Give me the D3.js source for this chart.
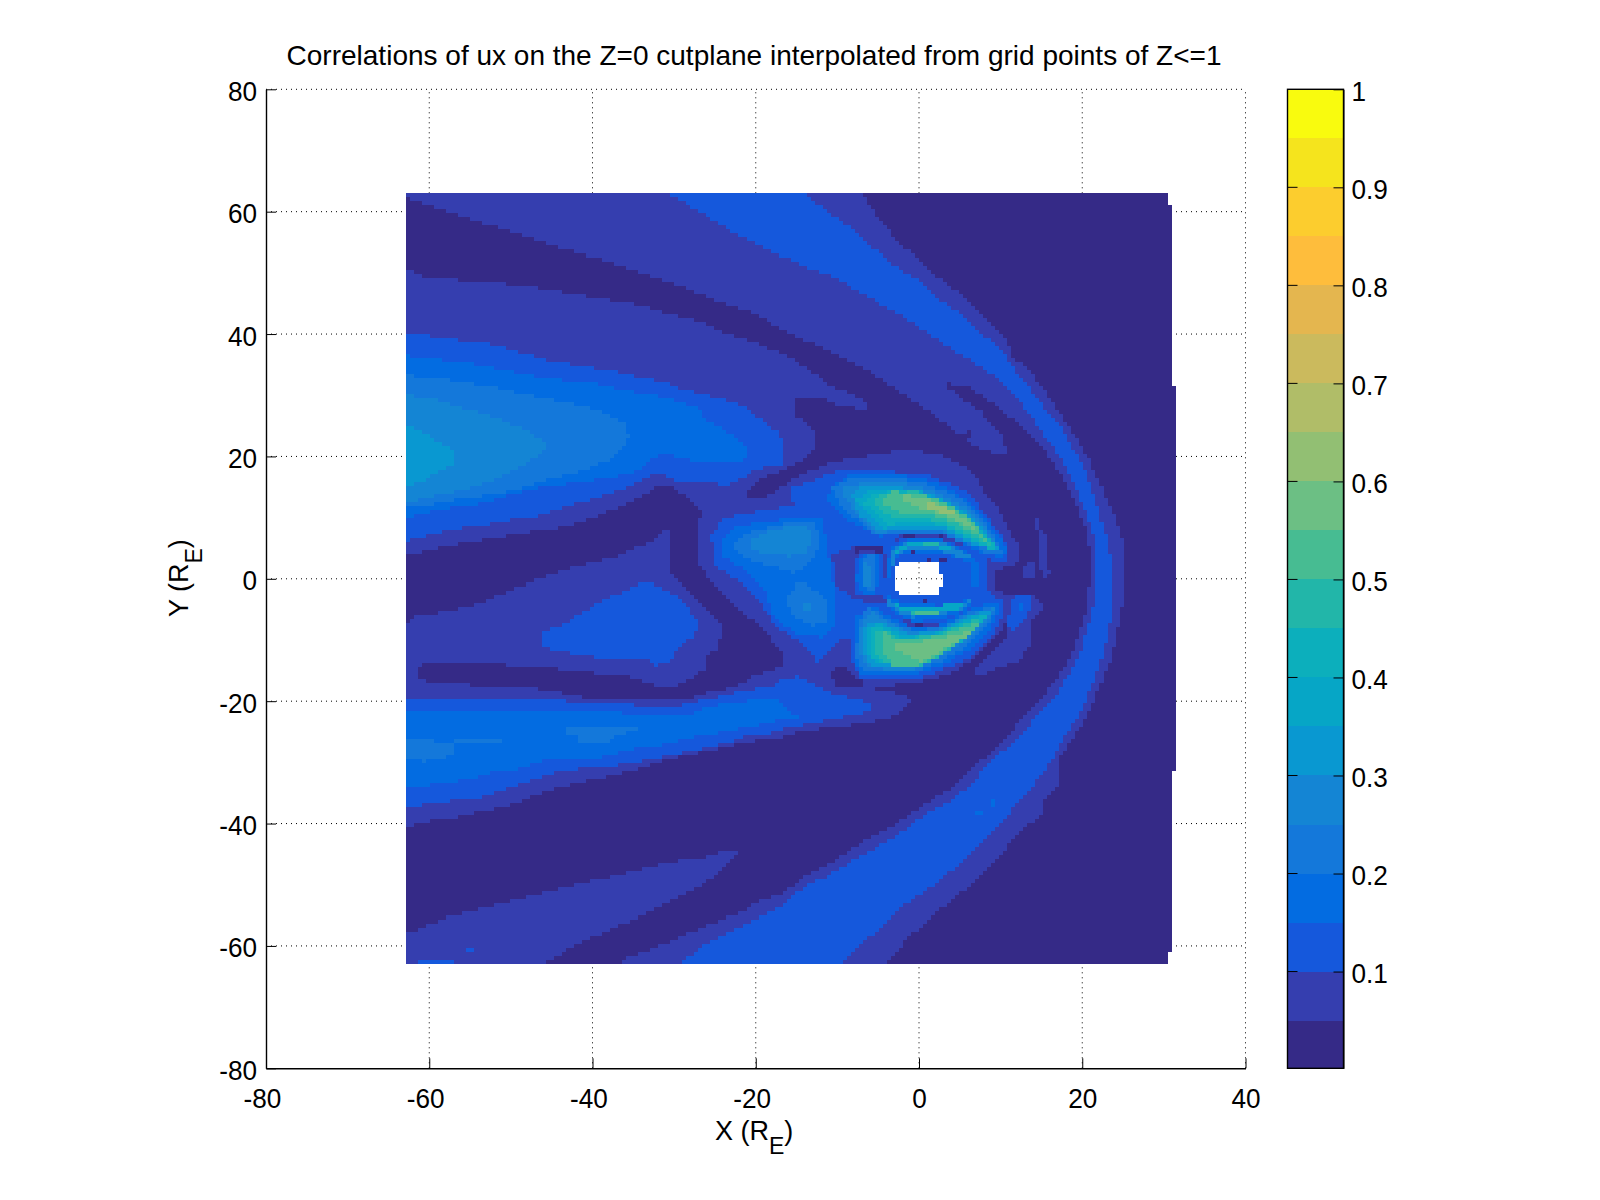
<!DOCTYPE html>
<html><head><meta charset="utf-8">
<script src="https://d3js.org/d3.v7.min.js"></script>
<style>html,body{margin:0;background:#fff}svg{display:block}text{font-family:"Liberation Sans",Arial,sans-serif;fill:#000}</style>
</head><body><svg id="c" width="1600" height="1200"></svg>
<script>
const titleText="Correlations of ux on the Z=0 cutplane interpolated from grid points of Z<=1";
const xTicks=[-80,-60,-40,-20,0,20,40];
const yTicks=[-80,-60,-40,-20,0,20,40,60,80];
const cbTicks=[0.1,0.2,0.3,0.4,0.5,0.6,0.7,0.8,0.9,1];
const levelEdges=[0.0013,0.05,0.1,0.15,0.2,0.25,0.3,0.35,0.4,0.45,0.5,0.55,0.6,0.65,0.7,0.75,0.8,0.85,0.9,0.95,1];
const levelColors=["#352a87","#353eaf","#1558dc","#036ce1","#1478da","#1485d4","#0998d1","#06a6c6","#0cafbc","#22b6a9","#47bc92","#6cbf84","#92bf73","#b0bd68","#cbba5d","#e4b64f","#febd3c","#fccd2e","#f5e41d","#f9fb0e"];

const domainOutline=[[-62.9,63],[30.4,63],[30.4,61.1],[30.9,61.1],[30.9,31.3],[31.4,31.3],[31.4,-31.2],[30.9,-31.2],[30.9,-60.9],[30.4,-60.9],[30.4,-62.9],[-62.9,-62.9]];
const holeOutline=[[-2.9,2],[-1.75,3],[1.5,3],[2.5,2.2],[2.5,0.9],[3.05,0.9],[3.05,-1.3],[2.5,-1.3],[2.5,-2.1],[1.5,-2.8],[-1.75,-2.8],[-2.5,-2.1],[-2.9,-1.3]];

const mainL2=[[-62.9,63],[-7.1,63],[-5.2,59.2],[-2.8,55.4],[0.5,51.5],[3.3,48.3],[5.4,46.4],[8.2,42.3],[10.9,39],[11.5,36.3],[13.9,33.6],[16.8,28.1],[19,23.8],[20.9,19.4],[22.5,14.5],[23.7,10.7],[24.95,6.3],[24.95,1.4],[25.2,-1.8],[23.7,-12.2],[22.1,-17.6],[21.1,-21.4],[19.6,-24.7],[17.2,-29.6],[17.2,-34],[15.2,-36.7],[15.2,-38.3],[12.3,-41.6],[9.45,-46],[6.2,-50.3],[2.5,-54.1],[-1.2,-58.5],[-4.2,-62.9],[-62.9,-62.9]];
const shellL3=[[-14.2,63],[-13,61.9],[-11.4,60],[-9.7,58.4],[-8.1,57],[-5.6,54],[-2.8,51],[0.5,48.3],[2.5,45.8],[5,43.4],[7.4,40.1],[9.5,38.5],[11.5,34.7],[13.5,31.4],[15.6,27.6],[18,23.8],[18.8,21.6],[20.1,18.9],[20.9,15.6],[21.7,12.3],[22.9,6.9],[23.7,1.4],[23.3,-8.4],[22.3,-13.3],[21.3,-17.1],[20.3,-20.4],[19,-23.6],[17.6,-26.3],[16.6,-29.1],[15.6,-31.2],[13.9,-34],[12.3,-36.1],[10.3,-40],[8.2,-42.1],[6.2,-45.4],[3.7,-48.1],[0.5,-51.4],[-2,-53.6],[-4,-56.3],[-6.5,-59],[-9.7,-62.9],[-29.3,-62.9],[-26.9,-60.4],[-24.9,-58.8],[-22,-57.1],[-19.6,-55.2],[-17.1,-53.8],[-15.8,-52.2],[-13.8,-50],[-11.8,-49],[-9.3,-47],[-6.5,-44.9],[-3.6,-42.7],[-1.2,-40.5],[1.1,-38.3],[4.1,-36.1],[6.6,-33.4],[8.2,-30.7],[10.7,-27.7],[13.1,-24.7],[14.3,-22.5],[16.8,-19],[18,-16.5],[19.6,-12.7],[20.5,-8.9],[21.5,-4],[21.7,1.4],[21.5,6.9],[20.5,10.7],[19.4,14.5],[18,18.3],[16.4,21.6],[14.3,25.4],[12.3,29.2],[9.5,33],[7,35.2],[4.1,37.4],[1.3,40.1],[-1.2,42.3],[-4.8,45],[-6.9,46.6],[-10.5,49.4],[-13.8,51],[-17.1,52.9],[-19.2,54.3],[-23.2,57],[-25.3,58.6],[-27.3,60.3],[-29.4,61.9],[-31.2,63]];
const shellSpeckA=[[6.8,-38.2],[7.7,-38.2],[7.7,-38.9],[6.8,-38.9]];
const shellSpeckB=[[8.6,-36.3],[9.1,-36.3],[9.1,-37],[8.6,-37]];
const darkInterior=[[-62.9,62.4],[-60.6,61.1],[-57.3,59.8],[-54.4,58.5],[-49.8,56.7],[-44.9,54.5],[-40.8,52.9],[-35,50.5],[-29.4,48],[-25.3,45.8],[-20,43.4],[-17.1,40.9],[-12.6,38.2],[-8.3,35.5],[-4.8,32.8],[3.5,31.9],[5.8,31.7],[7.4,30.3],[10.7,27],[13.9,23.2],[16,20],[17.6,16.7],[19.2,12.3],[20.5,8],[21.1,4.2],[21.1,1.4],[20.5,-5.1],[19.5,-9.5],[18.4,-13.3],[16.8,-16.5],[15.2,-19.3],[13.3,-22],[10.7,-25.8],[8.2,-29.1],[6.2,-31.2],[3.7,-34.5],[0.9,-36.7],[-1.6,-39.1],[-4,-41],[-6.3,-42.4],[-9.7,-45.4],[-11.8,-47.3],[-14,-48.7],[-17.1,-51.7],[-19.6,-52.5],[-22,-54.7],[-25.3,-56.3],[-29.4,-58.5],[-33,-60.7],[-35.5,-61.7],[-36.5,-62.9],[-62.9,-62.9]];
const tongueL2=[[-4.8,32.8],[-0.75,29.2],[2.1,26.5],[5.4,23.2],[7,21.6],[9,20.5],[11.3,20],[9.9,23.8],[7.4,27.6],[5,29.8],[3.5,31.3],[3.2,32.3],[-4.8,33.3]];
const tonguePatch=[[5.8,24.3],[6.6,24.3],[6.6,21.9],[6.2,22.7],[5.3,23.2]];
const upperWakeL2=[[-62.9,51],[-61,49.6],[-59.1,49.1],[-52.6,48.6],[-47.9,47.8],[-44.9,47.2],[-41.6,46.5],[-38.7,45.8],[-35.9,45.3],[-33.8,44.6],[-30.6,43.4],[-26.5,42],[-23.6,40.2],[-20.8,39],[-17.1,37],[-15,35.5],[-13,33.8],[-10.7,31.4],[-8.3,30.3],[-6.5,29],[-6.1,27.6],[-9.3,28.2],[-11.8,29.4],[-15.4,29.4],[-15.4,27],[-13,24.3],[-12.7,21.6],[-14.2,19.4],[-17.1,17.5],[-19.8,16.1],[-21.2,14.2],[-20.8,12.6],[-19.2,12.4],[-17.1,14.2],[-15.4,15.9],[-17.1,10.2],[-23.2,10.2],[-26.5,11.2],[-27.7,12.3],[-30.2,15.3],[-31.6,15.3],[-34.6,12.9],[-37.5,11.2],[-40,9.9],[-43.2,8.5],[-48.5,7.4],[-55.1,6],[-59.1,5],[-62.9,3.6]];
const lowerWakeL2=[[-62.9,-7.3],[-62,-6.2],[-58.3,-5.4],[-53.8,-4],[-48.5,-1],[-43.6,1.4],[-41.2,2.3],[-37.5,3.3],[-35.1,4.7],[-32.6,6.3],[-31.4,8],[-30.7,8],[-30.7,1.4],[-30.2,0.35],[-27.7,-2.4],[-25.7,-5.1],[-24,-7.8],[-24.5,-11.1],[-26.1,-13],[-26.3,-14.9],[-27.7,-16],[-29.4,-17.4],[-32.2,-17.4],[-33.4,-16.8],[-35.5,-16],[-39.5,-15.4],[-44.9,-14.6],[-47.3,-14.4],[-55.9,-13.5],[-56.7,-13.8],[-61.6,-14.1],[-61.6,-16.5],[-54.4,-17.4],[-46.9,-17.9],[-41.2,-19.3],[-32.2,-19.8],[-28.5,-19.8],[-26.1,-18.7],[-24,-18.2],[-22.2,-17.4],[-20.4,-16],[-18.3,-14.9],[-17.1,-14.4],[-12.2,-12.7],[-11,-16],[-10.5,-17.4],[-6.5,-17.6],[-2.8,-18.7],[-0.75,-19.5],[-2,-21.7],[-4.6,-23.1],[-9.7,-24.2],[-13.4,-24.7],[-15.8,-25.3],[-17.1,-26.1],[-20.8,-26.6],[-25.3,-28],[-30.2,-29.3],[-33.4,-30.7],[-37.9,-32.3],[-42,-33.4],[-44.9,-34.5],[-47.9,-35.9],[-50.6,-37.2],[-54.4,-38.3],[-56.3,-38.9],[-59.1,-39.4],[-62,-40.2],[-62.9,-40.8]];
const lowerLeftL2=[[-62.9,-58],[-60.6,-56.8],[-58.3,-55.5],[-54.4,-54.1],[-50.6,-52.8],[-46.9,-51.7],[-44.5,-50.9],[-38.7,-49],[-35.1,-47.9],[-30.8,-46.5],[-25.7,-45.4],[-24,-44.6],[-21.8,-44.6],[-22.8,-46],[-24.4,-48.1],[-26.9,-50.3],[-30.2,-52.5],[-33.8,-54.9],[-37.9,-57.4],[-40.8,-59],[-43.2,-60.7],[-45,-62],[-46.5,-62.9],[-62.9,-62.9]];
const cornerL3A=[[-61.6,-62.3],[-56.8,-62.3],[-56.8,-62.9],[-61.6,-62.9]];
const cornerL3B=[[-55.4,-60.3],[-54.4,-60.3],[-54.4,-61],[-55.4,-61]];
const upperWakeL3=[[-62.9,40.2],[-59.5,39.6],[-55.9,39],[-52.6,38.5],[-49.1,37.1],[-45.7,35.8],[-41.2,34.7],[-37.9,34.1],[-34.2,33],[-31,32],[-28.5,30.8],[-25.3,29.8],[-22,28.7],[-20.4,27],[-18.3,24.9],[-17.1,23.8],[-16.5,21.6],[-16.5,18.9],[-17.1,18.6],[-19.6,18],[-20.8,17.2],[-22.4,15.6],[-27.3,14.8],[-30.2,16.1],[-31.8,17.5],[-33.4,16.4],[-35.5,15],[-37.5,14],[-40,12.9],[-43.2,11.8],[-46.5,10.2],[-50.2,9.6],[-53,8.8],[-56.3,8.2],[-59.1,7.4],[-61.6,6.6],[-62.9,6.1]];
const upperWakeL4=[[-62.9,36.5],[-58.7,35.8],[-55,35.2],[-52,34.4],[-48.9,33.6],[-45.7,32.8],[-40,32],[-36.3,30.8],[-31.4,29.8],[-27.3,28.1],[-25.7,25.7],[-23.2,23.8],[-21.2,21.3],[-20.8,20.5],[-22,18.9],[-26.9,18.9],[-28.5,19.7],[-31.4,20.5],[-32.8,19.4],[-33.8,18],[-37.5,16.4],[-41.2,15.9],[-44,15.3],[-46.9,14.8],[-50.2,13.7],[-53.4,12.3],[-56.3,11.8],[-59.1,11.2],[-61.6,10.4],[-62.9,9.7]];
const upperWakeL5=[[-62.9,33.3],[-58.7,32.8],[-55.5,32],[-52.2,31.4],[-48.9,30.3],[-44.6,29.2],[-40.8,28.1],[-37.9,26.8],[-36,25.4],[-35.5,23.2],[-36.1,21.6],[-37.9,19.4],[-40.8,17.8],[-44.9,16.4],[-48.5,14.8],[-52.2,13.7],[-56.3,13.1],[-59.1,12.3],[-61,11.8],[-62.9,11.8]];
const upperWakeL6=[[-62.9,30],[-59.5,29.5],[-56.7,28.1],[-53.4,27],[-50.6,25.7],[-48.1,24.3],[-45.9,22.4],[-45.9,20.8],[-48.1,18.9],[-49.8,17.5],[-52.6,15.9],[-55.1,14.8],[-58.3,13.7],[-61,13.1],[-62.9,12.3]];
const upperWakeL7=[[-62.9,25.1],[-61,24],[-58.3,21.9],[-56.8,21],[-56.8,19.1],[-58.7,17.5],[-61,15.9],[-62.9,15]];
const lowerWakeL3=[[-62.9,-19.3],[-51.6,-19.3],[-51.6,-19.8],[-43,-19.8],[-43,-20.5],[-35.1,-20.5],[-35.1,-21],[-29,-21],[-28.9,-20.5],[-26.3,-19.8],[-24,-19.1],[-22.2,-18.4],[-20,-17.9],[-17.5,-17.4],[-17.1,-16.5],[-15,-16],[-12.6,-17.4],[-10.1,-19],[-6.9,-19.8],[-6.1,-20.6],[-6.1,-21.7],[-8.3,-22.3],[-13,-23.6],[-15.8,-24.2],[-17.1,-24.6],[-18.7,-25.5],[-20.8,-25.5],[-23.6,-26.9],[-27.7,-28.2],[-31.4,-29.1],[-34.2,-29.9],[-38.3,-30.7],[-43,-31.2],[-46.9,-32.6],[-49.8,-34],[-53,-35.6],[-54.9,-35.9],[-57.7,-36.4],[-61,-37],[-62.9,-37.7]];
const lowerWakeL4=[[-62.9,-21.7],[-36.5,-21.7],[-36.5,-22.4],[-29.3,-22.4],[-26.5,-21.7],[-26.5,-21.2],[-23.6,-20.3],[-20,-19.8],[-17.1,-19.3],[-17.1,-20.3],[-15.4,-22],[-14.2,-22],[-15.4,-23.1],[-17.1,-23.1],[-18.9,-23.7],[-21.4,-24.4],[-23.6,-25],[-26.3,-25.5],[-28.3,-26.1],[-30.2,-26.9],[-34,-27.6],[-35.9,-28.2],[-39.1,-29.2],[-44.4,-29.3],[-47.3,-30.1],[-49.1,-31.2],[-51.2,-31.2],[-54.4,-32.6],[-56.9,-33.2],[-61,-33.9],[-62.9,-34.4]];
const lowerWakeL5a=[[-62.9,-26.2],[-59.5,-26.2],[-59.5,-26.8],[-56.8,-26.8],[-56.8,-26.2],[-51.2,-26.2],[-51.2,-26.8],[-56.8,-26.9],[-56.8,-28.8],[-58.3,-29.3],[-60.6,-29.3],[-60.6,-29.9],[-61.1,-29.9],[-61.1,-29.3],[-62.9,-29.3]];
const lowerWakeL5b=[[-43,-24.4],[-34.4,-24.4],[-34.4,-24.9],[-36,-24.9],[-36,-25.5],[-37.3,-25.5],[-37.3,-26.2],[-38.3,-26.8],[-41.6,-26.8],[-41.6,-26.2],[-42.4,-25.5],[-43,-25.5]];
const lensL3=[[-46.4,-8.6],[-44.9,-7.9],[-43.4,-7.3],[-41.2,-5.4],[-38.7,-3.5],[-35.5,-1.6],[-34,-0.85],[-32.6,-0.85],[-30.2,-2.3],[-28.5,-4],[-27.5,-6.2],[-26.9,-7.5],[-27.5,-9.2],[-28.5,-10.3],[-29.7,-11.6],[-30.6,-13.8],[-32.6,-14.2],[-32.6,-13.5],[-35.1,-12.8],[-39.3,-12.8],[-42,-12.2],[-44.5,-11.6],[-46.4,-11]];

const bubbleL2=[[-21.1,13.4],[-19.1,13.1],[-15.6,16.1],[-13.8,17.5],[-10.3,19.1],[-5.2,20.4],[-1.6,21],[2.1,20.5],[5.8,18.3],[7,16.4],[8.2,13.7],[9.9,11.2],[10.9,8],[12.3,5.2],[12.3,2.5],[9.3,1.4],[9.5,-1.8],[11.3,-2.9],[10.9,-6.2],[10.5,-7],[10.1,-8.4],[8.2,-11.1],[6.6,-13.3],[3.75,-15.5],[0.1,-16.8],[-4.8,-17.6],[-10.1,-18.2],[-10.9,-17.1],[-16.6,-15.5],[-16.6,-12.2],[-19.5,-7.8],[-22.4,-4.6],[-24,-2.4],[-26.85,2],[-26.85,9.6],[-26.45,11.2],[-28.1,13.4],[-29.3,14.8],[-29.3,16.1],[-21.1,15]];
const bubblePatch=[[-10.7,-14.9],[-10.1,-14.4],[-9.1,-14.4],[-7.7,-16],[-6.9,-16.8],[-6.5,-17.6],[-10.1,-17.6],[-10.7,-16.3]];
const ringA=[[14.3,9.7],[14.8,9.7],[14.8,8.5],[15.8,6.9],[15.8,1.4],[14.8,1.4],[14.8,6.4],[14.3,8.5]];
const ringB=[[13.4,2.8],[14.1,2.8],[14.1,-0.2],[12.9,-0.2],[12.9,1.4]];
const ringC=[[15.2,1.4],[16.6,1.4],[15.6,-0.2],[15.2,-0.2]];
const ringD=[[10.5,-4],[11.5,-2.9],[13.5,-2.4],[15,-3.6],[15,-5.4],[13.9,-6.7],[13.5,-11.1],[12.3,-13.3],[8.2,-15.4],[7,-16],[6.8,-14.9],[7.8,-13.3],[10.7,-9.5],[10.9,-7.3]];
const ringDL3=[[11.5,-3.2],[12.3,-2.4],[13.5,-2.4],[13.95,-3.5],[13.1,-6.2],[11.9,-7.8],[11.1,-9.5],[11,-6.2]];
const ringDL4=[[12,-3.75],[12.7,-3.5],[12.9,-5.1],[12.3,-5.1]];
const bubbleL3=[[-15.8,14.8],[-13,16.1],[-10.1,17.5],[-4,17.5],[0.5,17.2],[4.6,15],[6.6,13.4],[8.2,10.4],[9.9,7.4],[10.9,5.5],[10.9,2.5],[8.4,3.1],[8.6,-1.8],[10.1,-3.5],[10.1,-6.7],[9.05,-9.5],[6.6,-12.7],[3.3,-14.6],[0.1,-16.3],[-4.8,-16.55],[-7.3,-16.3],[-8.1,-13.8],[-8.5,-9.5],[-9.3,-9.7],[-12.4,-13.6],[-14.2,-10.8],[-17.5,-7.8],[-19.5,-4],[-21.5,-0.75],[-24.8,2],[-25.4,6.9],[-24,9.9],[-19.5,11],[-15.4,12]];
const blobL4=[[-24,6.6],[-22.4,8.5],[-15.8,9.9],[-11.8,10.1],[-11.35,5.2],[-10.1,-4],[-10.1,-7.3],[-11.8,-9.5],[-15,-8.9],[-17.9,-6.2],[-19.1,-1.3],[-21.5,1.4],[-24,3.6]];
const blobL5a=[[-22.6,6],[-20.7,7.7],[-15.4,9.3],[-12.8,9],[-12.2,6.9],[-12.6,3.9],[-13.8,2.2],[-15.4,0.9],[-18.3,2.2],[-20.3,2.5],[-22.6,4.7]];
const blobL6a=[[-20.7,6],[-19.5,7.4],[-15.8,8.5],[-13.6,8.5],[-13.2,6.6],[-13.8,4.1],[-15.8,3.6],[-18.7,3.9],[-20.7,5]];
const blobL5b=[[-16.4,-3.5],[-14.6,-0.2],[-11.35,-3.2],[-11.35,-6.7],[-13,-7.8],[-15.4,-6.2]];
const blobL6b=[[-14.1,-4.1],[-13.2,-4.1],[-13.2,-5.4],[-13.6,-5.4],[-14.1,-4.8]];
const upL4=[[-11.35,12.6],[-10.5,15.3],[-8.1,17.2],[-4,17.3],[0.1,16.4],[3.3,15],[6.6,12],[8.6,9],[10.7,5.2],[10.5,3.1],[7.4,4.4],[2.5,7.4],[-2.8,7.4],[-4.8,6.8],[-8.1,9]];
const upL5=[[-10.7,15],[-8.1,16.4],[-3.2,16.7],[1.3,15.3],[5,13.1],[7.4,10.1],[9.3,6.9],[10.3,4.1],[8.6,3.9],[6.6,5.4],[1.7,7.6],[-2.8,7.5],[-5.2,7],[-8.1,10.1],[-10.1,12.9]];
const upL6=[[-9.3,14.8],[-6.5,15.9],[-1.6,15.6],[2.1,14.2],[5.4,12],[7.8,9],[9.9,4.7],[7.4,5.3],[2.5,7.8],[-3.2,7.8],[-5.2,7.3],[-7.7,10.7],[-9.1,13.4]];
const upL7=[[-8.3,13.4],[-7.3,15],[-3.2,15.3],[2.1,13.4],[5.8,11],[8.6,6.9],[9.9,4.4],[6.6,5.5],[2.9,8],[-0.7,8.2],[-4.8,7.7],[-7.1,10.1]];
const upL8=[[-7.7,12.9],[-5.6,14.8],[-1.1,14.8],[2.9,12.9],[6.6,9.6],[9.3,5.8],[9.7,4.4],[7,5.8],[2.9,8.5],[-0.7,8.8],[-4.4,8.2],[-6.25,10.7]];
const upL9=[[-6.9,12.3],[-5.2,14],[-0.7,14.5],[3.75,12],[7,9],[9.5,5.5],[9.5,4.4],[6.2,6.3],[2.9,8.8],[-0.7,9.3],[-3.8,8.8],[-5.6,11]];
const upL10=[[-5.8,12.6],[-4.4,14],[-0.3,14.2],[3.3,12],[6.6,9],[9.3,5.2],[6.2,6.9],[3.3,9],[0.1,9.9],[-2.8,9.6],[-5,11.5]];
const upL11=[[-4.6,12.6],[-3.2,14.2],[0.1,14],[4.2,11.8],[6.6,9.3],[8.6,5.8],[6.6,7.4],[4.6,9],[1.3,10.4],[-2,10.7],[-4.4,12]];
const upL12=[[-2.2,12.9],[-1.6,13.7],[0.9,13.1],[4.2,11.2],[6.2,9],[7.6,7.4],[5.4,8.8],[2.5,10.7],[-0.7,11.8]];
const upL13=[[0.1,12],[1.7,12.3],[4.2,11.2],[4.4,10.4],[2.1,11]];
const lowL4=[[-7.9,-6.2],[-8.1,-13.3],[-7.1,-15.7],[-0.7,-15.7],[3.3,-13.8],[6.6,-11.1],[8.6,-8.4],[9.9,-5.1],[9.7,-3.75],[6.6,-4.6],[3.3,-7],[-0.7,-7.8],[-4,-5.9],[-5.6,-4.3]];
const lowL5=[[-7.5,-6.7],[-7.7,-12.7],[-6.65,-15.2],[-0.7,-15.2],[2.9,-13.3],[6.2,-10.6],[8.6,-7.3],[9.5,-4.6],[6.6,-5.1],[2.9,-7.8],[-0.7,-8.4],[-4.4,-6.2],[-6,-4.6]];
const lowL6=[[-7.1,-7],[-7.3,-12.2],[-6.25,-14.6],[-0.7,-14.9],[2.5,-12.7],[5.8,-10],[8.45,-6.75],[9.3,-4.8],[6.6,-5.55],[2.7,-8.1],[-0.95,-8.8],[-4.6,-6.5],[-5.6,-5.4]];
const lowL7=[[-6.65,-7.6],[-6.85,-12.2],[-5.85,-14.4],[-1.15,-14.6],[2.1,-12.2],[5.4,-9.7],[8.25,-6.5],[9.05,-4.85],[6.6,-5.8],[2.5,-8.4],[-1.15,-9],[-4.8,-6.85]];
const lowL8=[[-6.25,-7.85],[-6.45,-12.2],[-5.2,-13.8],[-1.15,-14.4],[2.1,-12.1],[5.4,-9.5],[8.65,-5.55],[6.6,-6.1],[2.5,-8.65],[-1.55,-9.5],[-4.8,-7.2]];
const lowL9=[[-5.85,-8.1],[-5.85,-12.5],[-4.8,-13.8],[-0.3,-14.2],[2.7,-12.4],[5.8,-9.75],[8.45,-5.7],[5.8,-7],[2.1,-8.9],[-1.95,-9.75],[-4.8,-7.85]];
const lowL10=[[-5.2,-8.4],[-5.2,-12.2],[-4.2,-13.8],[0.1,-14.4],[2.9,-12.2],[6.2,-9],[8,-5.95],[5.8,-7.3],[2.1,-9.2],[-2.35,-9.75],[-4.4,-8.1]];
const lowL11=[[-4.6,-8.65],[-4.4,-12.2],[-3.2,-14.1],[-0.3,-14.4],[3.3,-11.65],[7.4,-7.8],[7.4,-7],[4.55,-8.4],[0.5,-9.75],[-2.8,-10],[-3.8,-8.65]];
const lowL12=[[-2.8,-10.3],[-2.8,-11.4],[-0.9,-12.7],[0.1,-13.55],[2.1,-12.2],[5,-10],[6.6,-8.7],[6.4,-8.4],[2.5,-9.75],[-0.75,-10.3]];
const leftRingL2=[[-10.7,3.9],[-8.1,5.2],[-4.4,5.5],[-4,2.5],[-4.4,-2.9],[-4,-3.75],[-7.7,-3.5],[-10.1,-1.3]];
const leftRingDark=[[-8.3,3.9],[-7.3,5.5],[-4.6,5.5],[-4.6,3.3],[-5.2,3.3],[-5.2,4.8],[-7.3,4.6],[-7.9,3.6]];
const ovalL3=[[-8.1,2.5],[-7.3,3.9],[-4.4,4.1],[-4.4,-2.4],[-5.2,-2.8],[-7.7,-2.8],[-8.1,-0.2]];
const ovalL4=[[-7.5,2.5],[-6.7,4],[-5.2,4],[-4.8,0.9],[-5.4,-2.4],[-7,-2.4],[-7.7,-0.2]];
const ovalL5=[[-7.1,2.8],[-6,4.1],[-5.2,3.9],[-5.4,0.9],[-5.2,-1.8],[-6.5,-1.8],[-7.1,0.3]];
const ovalL6=[[-6.9,2.5],[-6.2,2.8],[-6,0.3],[-5.6,-1.3],[-6.65,-1.3]];
const arcTopL2=[[-3.2,6.6],[-1.6,7.4],[3.3,7.1],[6.2,5.2],[5.8,5],[2.9,6.4],[-1.6,6.8],[-2.8,5.8]];
const arcTopL4=[[-3.8,2.5],[-3.4,5.2],[-0.7,6.6],[2.9,6.3],[6.2,4.1],[7.4,2.5],[7.6,-1.3],[6.6,-1.3],[6.2,2.5],[3.3,4.1],[0.1,4.1],[-2.4,4.1],[-3.2,2.5],[-3.6,-1.3]];
const arcTopL6=[[-3.6,3.1],[-3,5.2],[-0.3,6.2],[2.9,5.8],[5.8,4.1],[6.8,3.1],[4.6,3.6],[2.1,4.6],[-1.6,4.6],[-2.8,3.9],[-3.2,2]];
const arcTopL8=[[-2.8,4.1],[-2.2,5.5],[0.1,6],[2.9,5.5],[4.6,4.4],[2.1,5],[-1.1,5.1],[-2.4,4.4]];
const arcTopL10=[[0.5,5.9],[2.5,5.8],[2.9,5.2],[0.5,5.3]];
const darkDots1=[[-1.8,7.3],[-0.7,7.3],[-0.7,6.8],[-1.8,6.8]];
const darkDots2=[[2.5,7.3],[3.1,7.3],[3.1,6.6],[2.5,6.6]];
const darkDots3=[[-1.2,4.7],[-0.7,4.7],[-0.7,4],[-1.2,4]];
const darkDots4=[[2.5,3.6],[3.3,3.6],[3.3,3],[2.5,3]];
const darkDots5=[[1.1,3.6],[1.5,3.6],[1.5,3],[1.1,3]];
const arcLowL4=[[-4,-2.4],[-2.8,-3.5],[-0.7,-4],[2.9,-4.3],[6.6,-3.2],[5.8,-5.1],[2.9,-6.5],[-0.7,-7],[-2.8,-5.7],[-4,-4]];
const arcLowL6=[[-3.8,-2.9],[-3,-4.3],[-1.1,-4.8],[3.3,-4.6],[6.2,-3.5],[5.4,-4.8],[2.5,-5.9],[-0.7,-6.2],[-2.6,-5.4],[-3.8,-4.3]];
const arcLowL8=[[-3.6,-2.9],[-2.8,-4],[-1.6,-4.8],[4.6,-4],[5.8,-3.5],[5,-4.8],[2.1,-5.7],[-0.7,-5.8],[-2.4,-4.8]];
const arcLowL10=[[-1.1,-5.1],[1.7,-5.4],[4.2,-4.6],[1.7,-5.7],[-0.7,-5.7]];
const arcLowL11=[[-0.7,-5.4],[2.5,-5.4],[2.5,-5.8],[-0.7,-5.8]];
const arcBelowL2=[[-2,-6.75],[2.9,-7],[2.5,-7.8],[-1.6,-7.8]];
const arcBelowDark=[[-0.5,-7.3],[0.7,-7.3],[0.7,-7.8],[-0.5,-7.8]];
const darkDots6=[[0.5,-3.5],[1.1,-3.5],[1.1,-4.1],[0.5,-4.1]];

const paintOrder=[[2,mainL2],[3,shellL3],[4,shellSpeckA],[4,shellSpeckB],[1,darkInterior],[2,tongueL2],[1,tonguePatch],[2,upperWakeL2],[2,lowerWakeL2],[2,lowerLeftL2],[3,cornerL3A],[3,cornerL3B],
[3,upperWakeL3],[4,upperWakeL4],[5,upperWakeL5],[6,upperWakeL6],[7,upperWakeL7],[3,lowerWakeL3],[4,lowerWakeL4],[5,lowerWakeL5a],[5,lowerWakeL5b],[3,lensL3],
[2,bubbleL2],[1,bubblePatch],[2,ringA],[2,ringB],[2,ringC],[2,ringD],[3,ringDL3],[4,ringDL4],[3,bubbleL3],[4,blobL4],[5,blobL5a],[6,blobL6a],[5,blobL5b],[6,blobL6b],
[4,upL4],[5,upL5],[6,upL6],[7,upL7],[8,upL8],[9,upL9],[10,upL10],[11,upL11],[12,upL12],[13,upL13],
[4,lowL4],[5,lowL5],[6,lowL6],[7,lowL7],[8,lowL8],[9,lowL9],[10,lowL10],[11,lowL11],[12,lowL12],
[2,leftRingL2],[1,leftRingDark],[3,ovalL3],[4,ovalL4],[5,ovalL5],[6,ovalL6],
[2,arcBelowL2],[1,arcBelowDark],[4,arcLowL4],[6,arcLowL6],[8,arcLowL8],[10,arcLowL10],[11,arcLowL11],[1,darkDots6],
[2,arcTopL2],[1,darkDots1],[1,darkDots2],[4,arcTopL4],[6,arcTopL6],[8,arcTopL8],[10,arcTopL10],[1,darkDots3],[1,darkDots4],[1,darkDots5]];

const cellW=0.4914, cellH=0.6557, gridX0=-62.9, gridY0=63, cellRows=192, cellCols=193;

const svg=d3.select("#c");
const x=d3.scaleLinear().domain([-80,40]).range([266,1245.5]);
const y=d3.scaleLinear().domain([-80,80]).range([1068.3,89.3]);
const cb=d3.scaleLinear().domain([levelEdges[0],1]).range([1068.3,89.3]);
const squeeze=0.97;

const grid=svg.append("g").attr("stroke","#000").attr("stroke-width",1).attr("stroke-dasharray","1 4").attr("fill","none");
grid.selectAll(".gx").data(xTicks.slice(1)).join("line").attr("x1",d=>x(d)).attr("x2",d=>x(d)).attr("y1",y(-80)).attr("y2",y(80));
grid.selectAll(".gy").data(yTicks.slice(1)).join("line").attr("y1",d=>y(d)).attr("y2",d=>y(d)).attr("x1",x(-80)).attr("x2",x(40));

const shapes=paintOrder.map(([lv,p])=>({lv,p,x0:d3.min(p,d=>d[0]),x1:d3.max(p,d=>d[0]),y0:d3.min(p,d=>d[1]),y1:d3.max(p,d=>d[1])})).reverse();
function levelAt(px,py){
  if(!d3.polygonContains(domainOutline,[px,py])||d3.polygonContains(holeOutline,[px,py]))return 0;
  for(const s of shapes){ if(px<s.x0||px>s.x1||py<s.y0||py>s.y1)continue; if(d3.polygonContains(s.p,[px,py]))return s.lv; }
  return 1;
}
const runs=[];
for(let j=0;j<cellRows;j++){ let cur=-1,start=0;
  const py=gridY0-cellH*(j+.5);
  for(let i=0;i<=cellCols;i++){ const lv=i<cellCols?levelAt(gridX0+cellW*(i+.5),py):-2;
    if(lv!==cur){ if(cur>0)runs.push({lv:cur,i0:start,i1:i,j}); cur=lv; start=i; } } }
svg.append("g").attr("shape-rendering","crispEdges").selectAll("rect").data(runs).join("rect")
  .attr("x",d=>x(gridX0+cellW*d.i0)).attr("width",d=>x(gridX0+cellW*d.i1)-x(gridX0+cellW*d.i0))
  .attr("y",d=>y(gridY0-cellH*d.j)).attr("height",d=>y(gridY0-cellH*(d.j+1))-y(gridY0-cellH*d.j))
  .attr("fill",d=>levelColors[d.lv-1]);

function place(sel,dx,dy,anchor){ sel.selectAll("text").each(function(d){
   d3.select(this).attr("x",0).attr("y",0).attr("dy",null).attr("text-anchor",anchor).attr("font-size",27).attr("transform",`translate(${dx(d)},${dy(d)}) scale(${squeeze},1)`).text(String(d));
 }); }
const xa=svg.append("g").attr("transform",`translate(0,${y(-80)})`).call(d3.axisBottom(x).tickValues(xTicks).tickSizeInner(-10).tickSizeOuter(0));
place(xa,d=>d<0?-4:0,()=>40,"middle");
const ya=svg.append("g").attr("transform",`translate(${x(-80)},0)`).call(d3.axisLeft(y).tickValues(yTicks).tickSizeInner(-10).tickSizeOuter(0));
place(ya,()=>-9,()=>11,"end");
svg.selectAll(".domain").attr("stroke","#000").attr("stroke-width",1.4);
svg.selectAll(".tick line").attr("stroke","#000").attr("stroke-width",1);

const cbL=1287.5,cbR=1343.5;
const cbg=svg.append("g");
cbg.append("g").attr("shape-rendering","crispEdges").selectAll("rect").data(levelColors).join("rect")
  .attr("x",cbL).attr("width",cbR-cbL).attr("y",(d,i)=>cb(levelEdges[i+1])).attr("height",(d,i)=>cb(levelEdges[i])-cb(levelEdges[i+1])).attr("fill",d=>d);
const cbA=svg.append("g").attr("transform",`translate(${cbR},0)`).call(d3.axisRight(cb).tickValues(cbTicks).tickSizeInner(-10).tickSizeOuter(0));
place(cbA,()=>8,()=>11,"start");
cbA.selectAll(".tick line").attr("stroke","#000");
svg.append("g").selectAll("line").data(cbTicks.slice(0,-1)).join("line").attr("x1",cbL).attr("x2",cbL+10).attr("y1",d=>cb(d)).attr("y2",d=>cb(d)).attr("stroke","#000");
svg.append("rect").attr("x",cbL).attr("y",cb(1)).attr("width",cbR-cbL).attr("height",cb(levelEdges[0])-cb(1)).attr("fill","none").attr("stroke","#000").attr("stroke-width",1.4);

svg.append("text").attr("transform",`translate(754,65) scale(1.038,1)`).attr("text-anchor","middle").attr("font-size",27).text(titleText);
const xl=svg.append("text").attr("transform",`translate(715,1140)`).attr("font-size",27);
xl.append("tspan").text("X (R"); xl.append("tspan").attr("dy",14).attr("font-size",23).text("E"); xl.append("tspan").attr("dy",-14).text(")");
const yl=svg.append("text").attr("transform",`translate(188,617) rotate(-90)`).attr("font-size",27);
yl.append("tspan").text("Y (R"); yl.append("tspan").attr("dy",14).attr("font-size",23).text("E"); yl.append("tspan").attr("dy",-14).text(")");
</script></body></html>
